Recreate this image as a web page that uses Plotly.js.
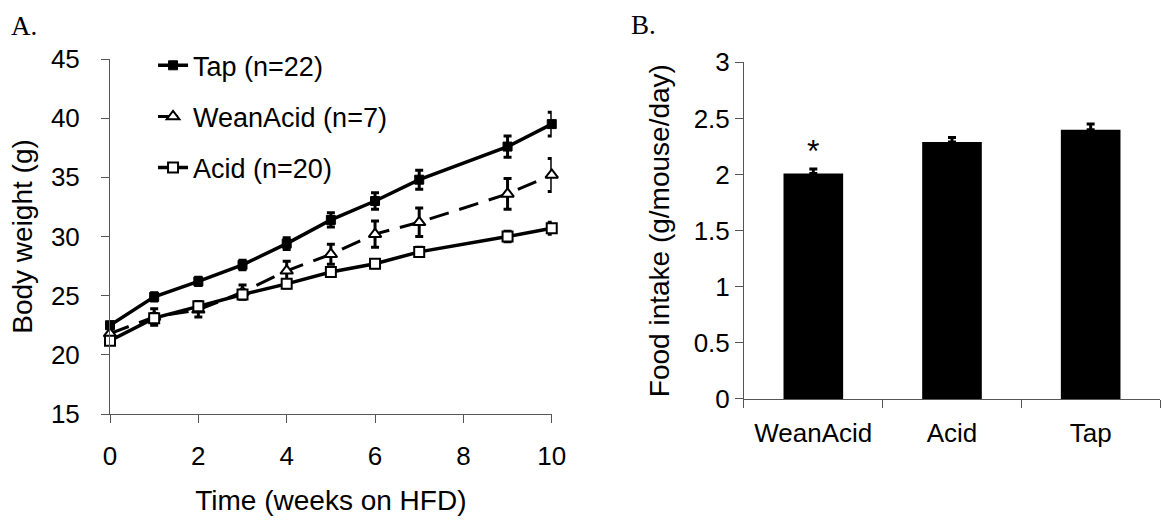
<!DOCTYPE html>
<html>
<head>
<meta charset="utf-8">
<script src="https://cdn.plot.ly/plotly-3.0.1.min.js"></script>
<style>html,body{margin:0;padding:0;background:#fff}</style>
</head>
<body>
<div id="chart" style="width:1163px;height:521px"></div>
<script>
// ----- Panel A: body weight over time -----
const weeks = [0, 1, 2, 3, 4, 5, 6, 7, 9, 10];
const tapWeight      = [22.5, 24.9, 26.2, 27.6, 29.4, 31.4, 33.0, 34.8, 37.6, 39.5];
const tapErr         = [0.3, 0.35, 0.35, 0.4, 0.5, 0.6, 0.7, 0.8, 0.9, 1.0];
const weanAcidWeight = [21.8, 23.2, 23.8, 25.3, 27.1, 28.5, 30.2, 31.2, 33.6, 35.2];
const weanAcidErr    = [0.4, 0.7, 0.6, 0.6, 0.8, 0.85, 1.1, 1.2, 1.3, 1.4];
const acidWeight     = [21.2, 23.1, 24.1, 25.1, 26.0, 27.0, 27.7, 28.7, 30.0, 30.7];
const acidErr        = [0.3, 0.4, 0.4, 0.35, 0.35, 0.35, 0.35, 0.4, 0.45, 0.5];
const seriesNames    = ['Tap (n=22)', 'WeanAcid (n=7)', 'Acid (n=20)'];

// ----- Panel B: food intake -----
const groups     = ['WeanAcid', 'Acid', 'Tap'];
const intake     = [2.01, 2.29, 2.40];
const intakeErr  = [0.04, 0.04, 0.05];
const sigMarks   = ['*', '', ''];

const FONT = 'Liberation Sans, Arial, sans-serif';
const SERIF = 'Liberation Serif, Times New Roman, serif';

function errBar(arr) {
  return {type: 'data', array: arr, visible: true, color: '#000', thickness: 3, width: 4};
}

const traces = [
  {
    x: weeks, y: tapWeight, name: seriesNames[0], legendgroup: 'g1',
    type: 'scatter', mode: 'lines+markers', cliponaxis: false,
    line: {color: '#000', width: 3.5},
    marker: {symbol: 'square', size: 9, color: '#000', line: {color: '#000', width: 1}},
    error_y: errBar(tapErr), xaxis: 'x', yaxis: 'y'
  },
  {
    x: weeks, y: weanAcidWeight, name: seriesNames[1], legendgroup: 'g2',
    type: 'scatter', mode: 'lines+markers', cliponaxis: false,
    line: {color: '#000', width: 3, dash: '20px,11px'},
    marker: {symbol: 'triangle-up', size: 11, color: '#fff', line: {color: '#000', width: 2}},
    error_y: errBar(weanAcidErr), xaxis: 'x', yaxis: 'y'
  },
  {
    x: weeks, y: acidWeight, name: seriesNames[2], legendgroup: 'g3',
    type: 'scatter', mode: 'lines+markers', cliponaxis: false,
    line: {color: '#000', width: 3.5},
    marker: {symbol: 'square', size: 10, color: '#fff', line: {color: '#000', width: 2}},
    error_y: errBar(acidErr), xaxis: 'x', yaxis: 'y'
  },
  {
    x: groups, y: intake, type: 'bar', showlegend: false,
    marker: {color: '#000'}, width: 0.43,
    error_y: {type: 'data', array: intakeErr, arrayminus: intakeErr.map(() => 0), visible: true, color: '#000', thickness: 3, width: 4},
    xaxis: 'x2', yaxis: 'y2'
  }
];

const axisCommon = {
  showgrid: false, zeroline: false, showline: true, linecolor: '#555', linewidth: 1,
  ticks: 'outside', ticklen: 8, tickcolor: '#555', tickwidth: 1,
  tickfont: {family: FONT, size: 26, color: '#000'}
};

const annotations = [
  {text: 'A.', xref: 'paper', yref: 'paper', x: -0.096, y: 1.14, xanchor: 'left', yanchor: 'top', showarrow: false, font: {family: SERIF, size: 27, color: '#000'}},
  {text: 'B.', xref: 'paper', yref: 'paper', x: 0.494, y: 1.145, xanchor: 'left', yanchor: 'top', showarrow: false, font: {family: SERIF, size: 27, color: '#000'}}
];
groups.forEach((g, i) => {
  if (sigMarks[i]) {
    annotations.push({text: sigMarks[i], xref: 'x2', yref: 'y2', x: g, y: intake[i] + intakeErr[i], yshift: 18, showarrow: false, font: {family: FONT, size: 32, color: '#000'}});
  }
});

const layout = {
  width: 1163, height: 521,
  margin: {l: 110, r: 3, t: 59, b: 107},
  paper_bgcolor: '#fff', plot_bgcolor: '#fff',
  font: {family: FONT, color: '#000'},
  showlegend: true,
  legend: {
    x: 0.041, y: 1.05, xanchor: 'left', yanchor: 'top',
    traceorder: 'grouped', tracegroupgap: 13,
    font: {family: FONT, size: 27, color: '#000'},
    bgcolor: 'rgba(0,0,0,0)', borderwidth: 0
  },
  xaxis: Object.assign({}, axisCommon, {
    domain: [0, 0.4207], range: [0, 10], dtick: 2, tick0: 0,
    ticklabelstandoff: 11,
    title: {text: 'Time (weeks on HFD)', font: {family: FONT, size: 28}, standoff: 20}
  }),
  yaxis: Object.assign({}, axisCommon, {
    domain: [0, 1], range: [15, 45], dtick: 5, tick0: 15,
    ticklabelstandoff: 16,
    title: {text: 'Body weight (g)', font: {family: FONT, size: 28}, standoff: 10}
  }),
  xaxis2: Object.assign({}, axisCommon, {
    domain: [0.6038, 1], type: 'category', range: [-0.5, 2.5], tickson: 'boundaries',
    ticklabelstandoff: 11, anchor: 'y2'
  }),
  yaxis2: Object.assign({}, axisCommon, {
    domain: [0.0423, 0.9907], range: [0, 3], dtick: 0.5, tick0: 0, anchor: 'x2',
    title: {text: 'Food intake (g/mouse/day)', font: {family: FONT, size: 28}, standoff: 15}
  }),
  annotations: annotations
};

Plotly.newPlot('chart', traces, layout, {displayModeBar: false, staticPlot: true});
</script>
</body>
</html>
